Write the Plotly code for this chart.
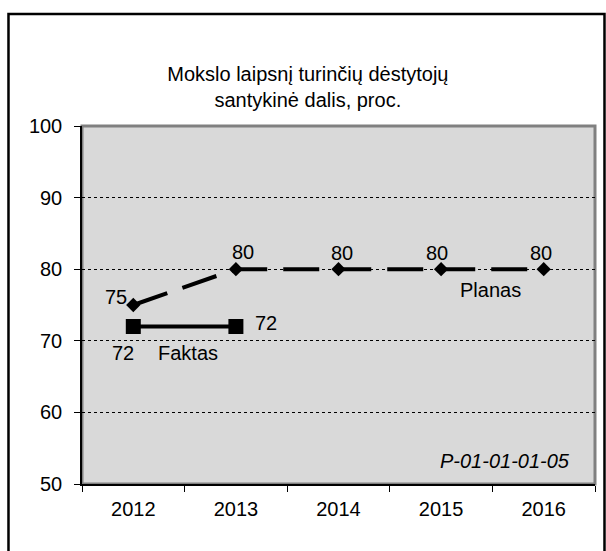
import plotly.graph_objects as go

years = ["2012", "2013", "2014", "2015", "2016"]
planas = [75, 80, 80, 80, 80]
faktas_years = ["2012", "2013"]
faktas = [72, 72]

title_text = "Mokslo laipsnį turinčių dėstytojų<br>santykinė dalis, proc."
code_text = "P-01-01-01-05"

FONT = "Liberation Sans, Arial, sans-serif"
FS = 20

fig = go.Figure()

# Planas - dashed line with diamonds
fig.add_trace(go.Scatter(
    x=years, y=planas, mode="lines+markers", name="Planas",
    line=dict(color="black", width=4, dash="36px,16px"),
    marker=dict(symbol="diamond", size=11, color="black"),
    showlegend=False, cliponaxis=False,
))

# Faktas - solid line with squares
fig.add_trace(go.Scatter(
    x=faktas_years, y=faktas, mode="lines+markers", name="Faktas",
    line=dict(color="black", width=4),
    marker=dict(symbol="square", size=15, color="black"),
    showlegend=False, cliponaxis=False,
))


def label(idx, v, text, dx, dy):
    # category axes: use the index so "2012" isn't read as a number
    return dict(x=idx, y=v, text=text, showarrow=False,
                xshift=dx, yshift=dy,
                font=dict(size=FS, color="black", family=FONT))


annotations = []
plan_shifts = [(-17, 8), (7, 17), (3, 16), (-4, 16), (-3, 16)]
for i, (v, (dx, dy)) in enumerate(zip(planas, plan_shifts)):
    annotations.append(label(i, v, str(v), dx, dy))

fakt_shifts = [(-10, -27), (30, 3)]
for i, (v, (dx, dy)) in enumerate(zip(faktas, fakt_shifts)):
    annotations.append(label(i, v, str(v), dx, dy))

# series names
annotations.append(label(3, planas[3], "Planas", 49, -21))
annotations.append(label(0, faktas[0], "Faktas", 55, -27))

# code label
annotations.append(dict(xref="paper", yref="paper", x=0.955, y=0.065,
                        xanchor="right", yanchor="middle", text="<i>" + code_text + "</i>",
                        showarrow=False,
                        font=dict(size=FS, color="black", family=FONT)))

fig.update_layout(
    width=606, height=551,
    margin=dict(l=82, r=11, t=126, b=67),
    paper_bgcolor="white",
    plot_bgcolor="#d9d9d9",
    font=dict(family=FONT, size=FS, color="black"),
    title=dict(text=title_text, x=0.508, xanchor="center", xref="container",
               y=0.853, yanchor="middle", yref="container",
               font=dict(size=FS, family=FONT, color="black")),
    annotations=annotations,
    shapes=[
        # gray frame of the plot area
        dict(type="rect", xref="paper", yref="paper", x0=0, x1=1, y0=0, y1=1,
             line=dict(color="#808080", width=3), layer="below"),
        # outer black border of the chart
        dict(type="rect", xref="paper", yref="paper",
             x0=-0.1433, x1=1.0185, y0=-0.22, y1=1.313,
             line=dict(color="black", width=2.5)),
    ],
)

fig.update_xaxes(
    type="category", categoryorder="array", categoryarray=years,
    range=[-0.5, 4.5],
    showline=True, linecolor="black", linewidth=1.5,
    ticks="outside", tickson="boundaries", ticklen=6, tickcolor="black",
    ticklabelstandoff=6,
    showgrid=False, zeroline=False,
    tickfont=dict(size=FS, family=FONT, color="black"),
)
fig.update_yaxes(
    range=[50, 100], dtick=10,
    showline=True, linecolor="black", linewidth=1.5,
    ticks="outside", ticklen=6, tickcolor="black",
    ticklabelstandoff=8,
    showgrid=True, gridcolor="black", gridwidth=1, griddash="dot",
    zeroline=False,
    tickfont=dict(size=FS, family=FONT, color="black"),
)

fig.write_html("out.html", config={"displayModeBar": False},
               post_script="document.body.style.margin='0px';")
